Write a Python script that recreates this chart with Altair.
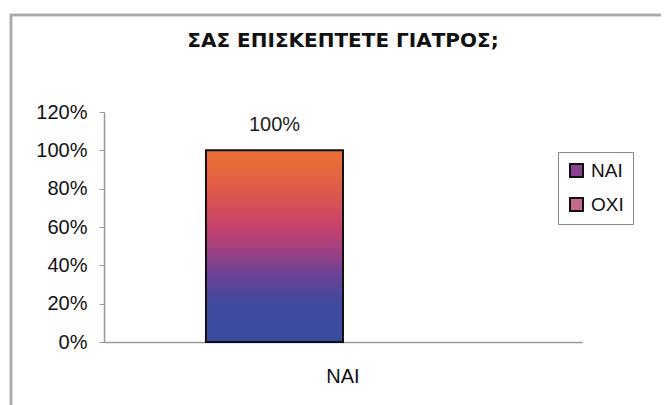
import altair as alt
import pandas as pd

title_text = "ΣΑΣ ΕΠΙΣΚΕΠΤΕΤΕ ΓΙΑΤΡΟΣ;"
category = ["ΝΑΙ", "ΝΑΙ"]
series = ["ΝΑΙ", "ΟΧΙ"]
values = [100, 0]
y_ticks = [0, 20, 40, 60, 80, 100, 120]

df = pd.DataFrame({"cat": category, "series": series, "value": values})

FONT = "Liberation Sans"

gradient = alt.LinearGradient(
    gradient="linear",
    x1=0, x2=0, y1=1, y2=0,
    stops=[
        alt.GradientStop(offset=0.0, color="#3a4ca0"),
        alt.GradientStop(offset=0.2, color="#404a9e"),
        alt.GradientStop(offset=0.35, color="#6a4296"),
        alt.GradientStop(offset=0.5, color="#a8407e"),
        alt.GradientStop(offset=0.6, color="#c6426c"),
        alt.GradientStop(offset=0.75, color="#da5450"),
        alt.GradientStop(offset=0.9, color="#e6683c"),
        alt.GradientStop(offset=1.0, color="#ea6e36"),
    ],
)

x_enc = alt.X(
    "cat:N",
    title=None,
    scale=alt.Scale(paddingInner=0, paddingOuter=0.372),
    axis=alt.Axis(
        labelAngle=0, ticks=False, labelPadding=24, labelFontSize=20,
        labelFont=FONT, labelColor="#111", domainColor="#999", domainWidth=1.5,
    ),
)
xoff_enc = alt.XOffset("series:N", scale=alt.Scale(paddingInner=0, paddingOuter=0), sort=series)
y_enc = alt.Y(
    "value:Q",
    title=None,
    scale=alt.Scale(domain=[0, 120], nice=False),
    axis=alt.Axis(
        values=y_ticks, labelExpr="datum.value + '%'", grid=False,
        tickSize=5, tickColor="#999", domainColor="#999", domainWidth=1.5,
        labelPadding=12, labelFontSize=20, labelFont=FONT, labelColor="#111",
    ),
)

base_bars = alt.Chart(df).mark_bar().encode(
    x=x_enc, xOffset=xoff_enc, y=y_enc,
    color=alt.Color(
        "series:N", sort=series,
        scale=alt.Scale(domain=series, range=["#8a4290", "#c46a8a"]),
        legend=alt.Legend(
            title=None, orient="none", legendX=454, legendY=40,
            symbolType="square", symbolSize=169, symbolStrokeColor="#111",
            symbolStrokeWidth=2, labelFontSize=19, labelFont=FONT, labelColor="#111",
            rowPadding=13, padding=9, labelOffset=5,
            strokeColor="#888", fillColor="white",
        ),
    ),
)

grad_bars = alt.Chart(df).transform_filter(alt.datum.value > 0).mark_bar(
    fill=gradient, stroke="#111", strokeWidth=2
).encode(x=x_enc, xOffset=xoff_enc, y=y_enc)

labels = alt.Chart(df).transform_filter(alt.datum.value > 0).mark_text(
    dy=-25, fontSize=20, font=FONT, color="#222"
).encode(
    x=x_enc, xOffset=xoff_enc, y=y_enc,
    text=alt.Text("label:N"),
).transform_calculate(label="datum.value + '%'")

frame = alt.Chart(df).mark_rect(
    fill="transparent", stroke="#aaaaaa", strokeWidth=2.5
).encode(
    x=alt.value(-93), x2=alt.value(700), y=alt.value(-97), y2=alt.value(400)
)

chart = alt.layer(frame, base_bars, grad_bars, labels).properties(
    width=478,
    height=230,
    padding={"left": 96, "top": 104, "right": 79, "bottom": 63},
    autosize=alt.AutoSizeParams(type="none"),
    title=alt.TitleParams(
        text=title_text, font="DejaVu Sans", fontSize=20, fontWeight="bold",
        color="#111", anchor="middle", offset=0, dy=37,
    ),
).configure_view(stroke=None)

chart.save("out.html", embed_options={"renderer": "svg", "actions": False})
